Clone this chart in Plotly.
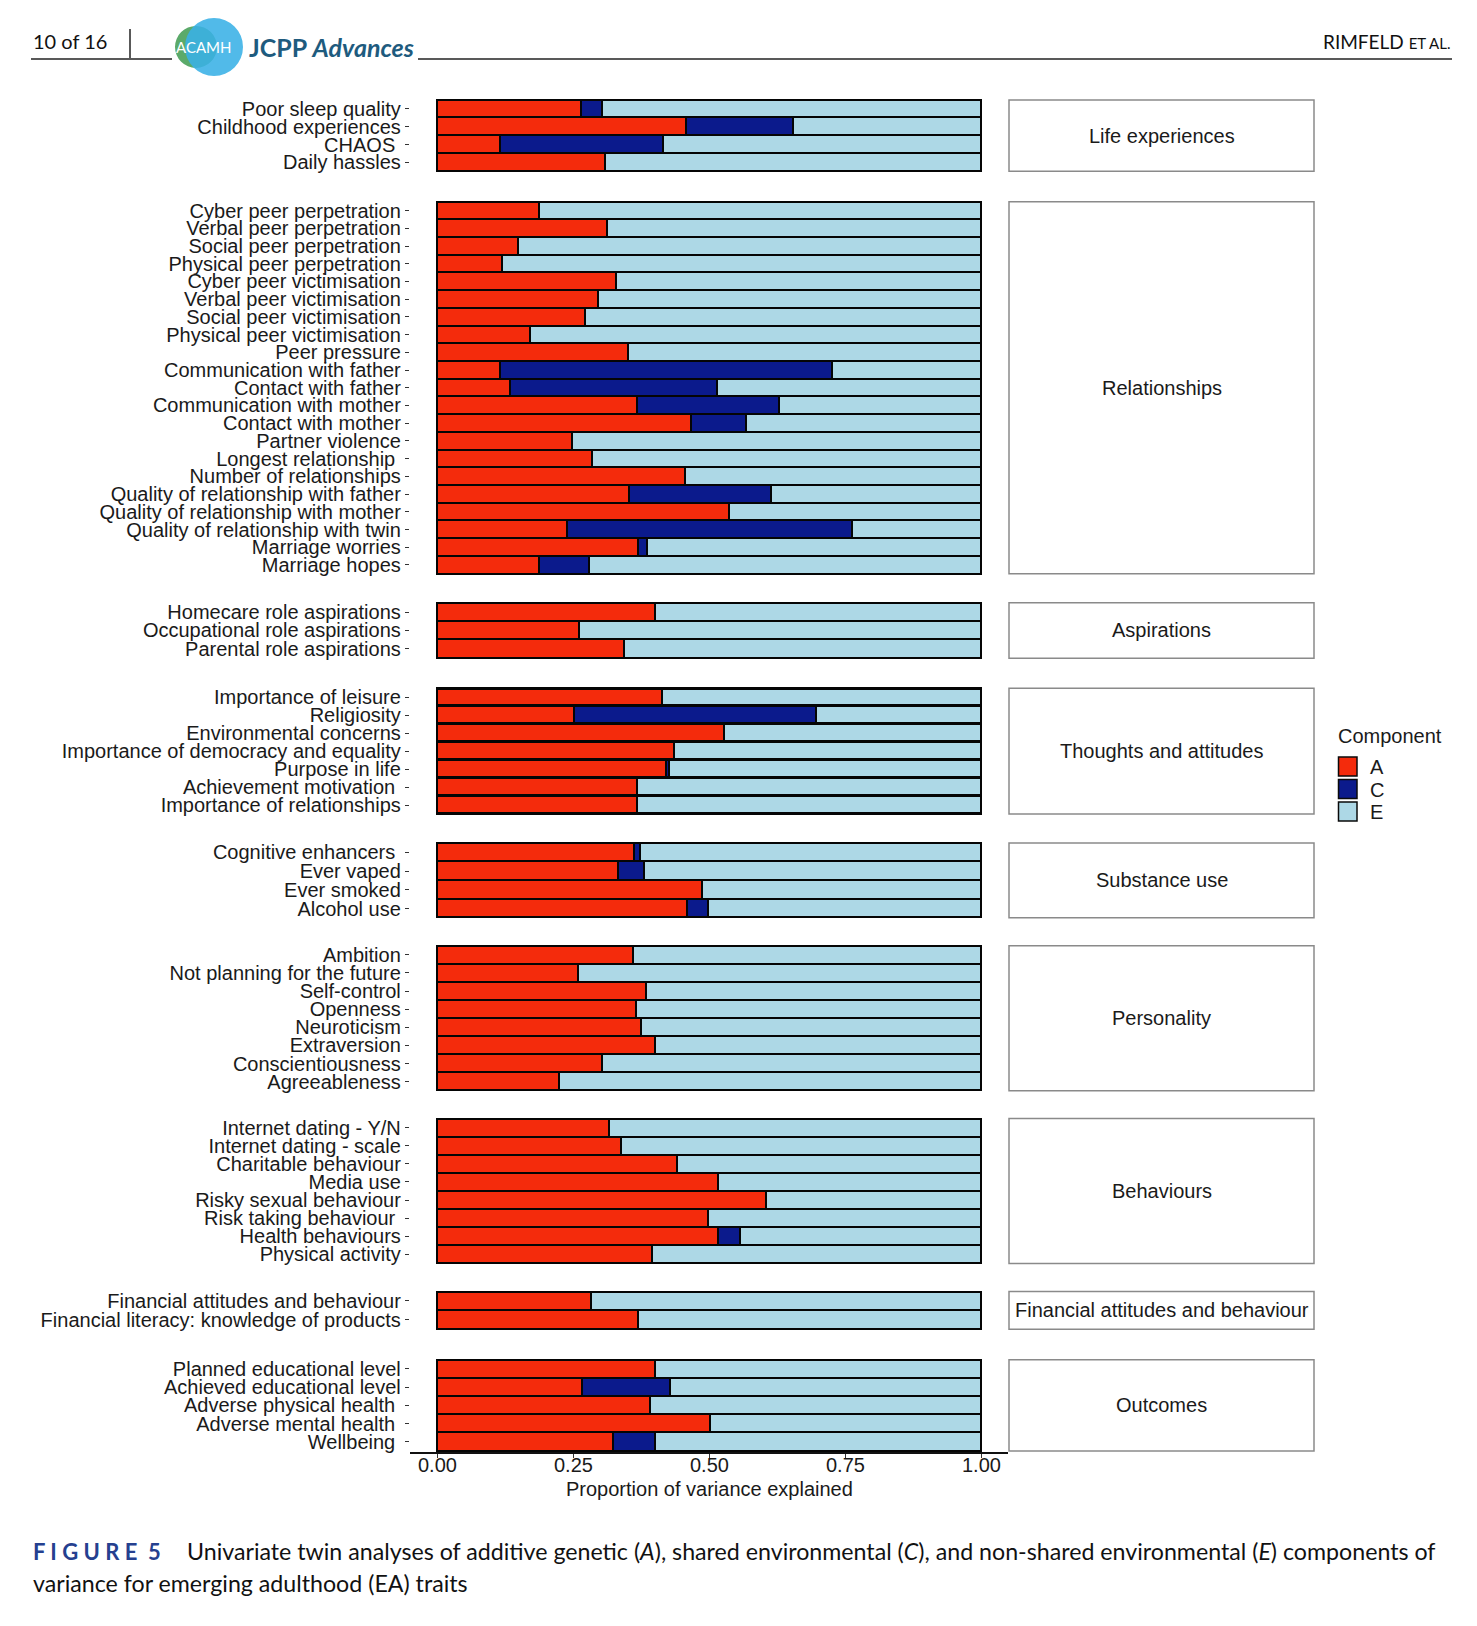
import plotly.graph_objects as go

W, H = 1477, 1626

# ------------------------------------------------------------------ data
groups = ["Life experiences", "Relationships", "Aspirations",
          "Thoughts and attitudes", "Substance use", "Personality",
          "Behaviours", "Financial attitudes and behaviour", "Outcomes"]

life_traits = ["Poor sleep quality", "Childhood experiences", "CHAOS\u00a0", "Daily hassles"]
life_A = [0.265, 0.457, 0.116, 0.308]
life_C = [0.038, 0.197, 0.299, 0.000]
life_E = [0.697, 0.346, 0.585, 0.692]

rel_traits = ["Cyber peer perpetration", "Verbal peer perpetration", "Social peer perpetration",
              "Physical peer perpetration", "Cyber peer victimisation", "Verbal peer victimisation",
              "Social peer victimisation", "Physical peer victimisation", "Peer pressure",
              "Communication with father", "Contact with father", "Communication with mother",
              "Contact with mother", "Partner violence", "Longest relationship\u00a0",
              "Number of relationships", "Quality of relationship with father",
              "Quality of relationship with mother", "Quality of relationship with twin",
              "Marriage worries", "Marriage hopes"]
rel_A = [0.187, 0.313, 0.149, 0.119, 0.329, 0.296, 0.272, 0.171, 0.351, 0.116, 0.133,
         0.367, 0.467, 0.247, 0.285, 0.455, 0.353, 0.536, 0.239, 0.370, 0.187]
rel_C = [0.000, 0.000, 0.000, 0.000, 0.000, 0.000, 0.000, 0.000, 0.000, 0.609, 0.381,
         0.261, 0.100, 0.000, 0.000, 0.000, 0.261, 0.000, 0.524, 0.016, 0.092]
rel_E = [0.813, 0.687, 0.851, 0.881, 0.671, 0.704, 0.728, 0.829, 0.649, 0.275, 0.486,
         0.372, 0.433, 0.753, 0.715, 0.545, 0.386, 0.464, 0.237, 0.614, 0.721]

asp_traits = ["Homecare role aspirations", "Occupational role aspirations", "Parental role aspirations"]
asp_A = [0.400, 0.260, 0.344]
asp_C = [0.000, 0.000, 0.000]
asp_E = [0.600, 0.740, 0.656]

tho_traits = ["Importance of leisure", "Religiosity", "Environmental concerns",
              "Importance of democracy and equality", "Purpose in life",
              "Achievement motivation\u00a0", "Importance of relationships"]
tho_A = [0.413, 0.251, 0.528, 0.436, 0.420, 0.367, 0.367]
tho_C = [0.000, 0.446, 0.000, 0.000, 0.007, 0.000, 0.000]
tho_E = [0.587, 0.303, 0.472, 0.564, 0.573, 0.633, 0.633]

sub_traits = ["Cognitive enhancers\u00a0", "Ever vaped", "Ever smoked", "Alcohol use"]
sub_A = [0.362, 0.332, 0.486, 0.460]
sub_C = [0.010, 0.049, 0.000, 0.038]
sub_E = [0.628, 0.619, 0.514, 0.502]

per_traits = ["Ambition", "Not planning for the future", "Self-control", "Openness",
              "Neuroticism", "Extraversion", "Conscientiousness", "Agreeableness"]
per_A = [0.360, 0.258, 0.384, 0.365, 0.374, 0.401, 0.303, 0.223]
per_C = [0.000, 0.000, 0.000, 0.000, 0.000, 0.000, 0.000, 0.000]
per_E = [0.640, 0.742, 0.616, 0.635, 0.626, 0.599, 0.697, 0.777]

beh_traits = ["Internet dating - Y/N", "Internet dating - scale", "Charitable behaviour",
              "Media use", "Risky sexual behaviour", "Risk taking behaviour\u00a0",
              "Health behaviours", "Physical activity"]
beh_A = [0.315, 0.337, 0.441, 0.516, 0.604, 0.498, 0.517, 0.394]
beh_C = [0.000, 0.000, 0.000, 0.000, 0.000, 0.000, 0.040, 0.000]
beh_E = [0.685, 0.663, 0.559, 0.484, 0.396, 0.502, 0.443, 0.606]

fin_traits = ["Financial attitudes and behaviour", "Financial literacy: knowledge of products"]
fin_A = [0.282, 0.369]
fin_C = [0.000, 0.000]
fin_E = [0.718, 0.631]

out_traits = ["Planned educational level", "Achieved educational level",
              "Adverse physical health\u00a0", "Adverse mental health\u00a0", "Wellbeing\u00a0"]
out_A = [0.400, 0.266, 0.391, 0.501, 0.324]
out_C = [0.000, 0.162, 0.000, 0.000, 0.077]
out_E = [0.600, 0.572, 0.609, 0.499, 0.599]

components = ["A", "C", "E"]
x_ticks = [0.0, 0.25, 0.5, 0.75, 1.0]
x_ticktext = ["0.00", "0.25", "0.50", "0.75", "1.00"]

panels = [
    (groups[0], life_traits, life_A, life_C, life_E),
    (groups[1], rel_traits, rel_A, rel_C, rel_E),
    (groups[2], asp_traits, asp_A, asp_C, asp_E),
    (groups[3], tho_traits, tho_A, tho_C, tho_E),
    (groups[4], sub_traits, sub_A, sub_C, sub_E),
    (groups[5], per_traits, per_A, per_C, per_E),
    (groups[6], beh_traits, beh_A, beh_C, beh_E),
    (groups[7], fin_traits, fin_A, fin_C, fin_E),
    (groups[8], out_traits, out_A, out_C, out_E),
]

# ------------------------------------------------------------------ style / layout constants
COLORS = {"A": "#F42B0C", "C": "#0B1A8C", "E": "#ADD8E6"}
FONT = "Liberation Sans, Arial, sans-serif"
PAGE_FONT = "Lato, Open Sans, sans-serif"
TXT = "#1a1a1a"

# panel top/bottom in pixels
PANEL_PX = [(99, 170.5), (201, 573.5), (602.5, 658), (688, 814), (843, 918),
            (946, 1091), (1119, 1264), (1292, 1330), (1360.5, 1451.7)]
X_L, X_R = 409.8, 1008.2          # pixel extent of x range [-0.05, 1.05]
STRIP_L, STRIP_R = 1009, 1314


def fx(px):
    return px / W


def fy(py):
    return 1 - py / H


fig = go.Figure()
layout = dict(
    width=W, height=H,
    margin=dict(l=0, r=0, t=0, b=0),
    paper_bgcolor="white", plot_bgcolor="white",
    barmode="stack", bargap=0,
    showlegend=False,
    font=dict(family=FONT, size=20, color=TXT),
)
shapes = []
annotations = []

n_pan = len(panels)
for i, (gname, traits, A, C, E) in enumerate(panels):
    k = "" if i == 0 else str(i + 1)
    n = len(traits)
    top, bot = PANEL_PX[i]
    rowh = (bot - top) / n
    pad = 1.5
    eps = pad / rowh
    last = (i == n_pan - 1)

    for comp, vals in zip(components, (A, C, E)):
        fig.add_trace(go.Bar(
            x=vals, y=traits, orientation="h", name=comp, width=1,
            marker=dict(color=COLORS[comp], line=dict(color="#050505", width=2.2)),
            xaxis="x" + k, yaxis="y" + k, showlegend=False,
            hovertemplate=comp + ": %{x:.2f}<extra>%{y}</extra>",
        ))

    layout["yaxis" + k] = dict(
        domain=[fy(bot + pad), fy(top - pad)],
        type="category", categoryorder="array", categoryarray=traits,
        tickmode="array", tickvals=traits, ticktext=traits,
        range=[n - 0.5 + eps, -0.5 - eps],
        anchor="x" + k,
        showgrid=False, zeroline=False, showline=False,
        ticks="outside", ticklen=4, tickwidth=1, tickcolor="#333333",
        tickfont=dict(family=FONT, size=20, color=TXT),
        fixedrange=True,
    )
    layout["xaxis" + k] = dict(
        domain=[fx(X_L), fx(X_R)],
        range=[-0.05, 1.05],
        anchor="y" + k,
        showgrid=False, zeroline=False,
        showline=last, linecolor="#111111", linewidth=1.5,
        ticks="outside" if last else "", ticklen=4, tickwidth=1, tickcolor="#333333",
        tickvals=x_ticks,
        showticklabels=False,
        fixedrange=True,
    )

    # facet strip on the right
    shapes.append(dict(type="rect", xref="paper", yref="paper",
                       x0=fx(STRIP_L), x1=fx(STRIP_R), y0=fy(bot), y1=fy(top),
                       line=dict(color="#8a8a8a", width=1.5), fillcolor="white", layer="below"))
    annotations.append(dict(xref="paper", yref="paper",
                            x=fx((STRIP_L + STRIP_R) / 2), y=fy((top + bot) / 2),
                            text=gname, showarrow=False, xanchor="center", yanchor="middle",
                            font=dict(family=FONT, size=20, color=TXT)))

# x tick labels, placed on the bottom x axis scale
last_x = "x" + str(n_pan)
for tv, tt in zip(x_ticks, x_ticktext):
    annotations.append(dict(xref=last_x, yref="paper", x=tv, y=fy(1466),
                            text=tt, showarrow=False, xanchor="center", yanchor="middle",
                            font=dict(family=FONT, size=20, color=TXT)))

# x axis title
annotations.append(dict(xref="paper", yref="paper", x=fx(709), y=fy(1490),
                        text="Proportion of variance explained", showarrow=False,
                        xanchor="center", yanchor="middle",
                        font=dict(family=FONT, size=20, color=TXT)))

# legend (drawn manually)
annotations.append(dict(xref="paper", yref="paper", x=fx(1336), y=fy(736),
                        text="Component", showarrow=False, xanchor="left", yanchor="middle",
                        font=dict(family=FONT, size=20, color=TXT)))
key_tops = [757, 779.5, 802]
for comp, kt in zip(components, key_tops):
    shapes.append(dict(type="rect", xref="paper", yref="paper",
                       x0=fx(1338.5), x1=fx(1357), y0=fy(kt + 19), y1=fy(kt),
                       fillcolor=COLORS[comp], line=dict(color="#0a0a0a", width=1.5)))
    annotations.append(dict(xref="paper", yref="paper", x=fx(1368), y=fy(kt + 10),
                            text=comp, showarrow=False, xanchor="left", yanchor="middle",
                            font=dict(family=FONT, size=20, color=TXT)))

# ------------------------------------------------------------------ page header
shapes.append(dict(type="line", xref="paper", yref="paper",
                   x0=fx(31), x1=fx(172), y0=fy(58), y1=fy(58),
                   line=dict(color="#222222", width=1.5)))
shapes.append(dict(type="line", xref="paper", yref="paper",
                   x0=fx(418), x1=fx(1452), y0=fy(58), y1=fy(58),
                   line=dict(color="#222222", width=1.5)))
shapes.append(dict(type="line", xref="paper", yref="paper",
                   x0=fx(130), x1=fx(130), y0=fy(28), y1=fy(57),
                   line=dict(color="#222222", width=1.5)))
# logo circles
shapes.append(dict(type="circle", xref="paper", yref="paper",
                   x0=fx(175), x1=fx(217), y0=fy(67), y1=fy(25),
                   fillcolor="#5BAA6A", line=dict(width=0)))
shapes.append(dict(type="circle", xref="paper", yref="paper",
                   x0=fx(185), x1=fx(243), y0=fy(75), y1=fy(17),
                   fillcolor="#39B1E6", opacity=0.88, line=dict(width=0)))
annotations.append(dict(xref="paper", yref="paper", x=fx(203), y=fy(46),
                        text="ACAMH", showarrow=False, xanchor="center", yanchor="middle",
                        font=dict(family=PAGE_FONT, size=15, color="white")))
annotations.append(dict(xref="paper", yref="paper", x=fx(247), y=fy(46),
                        text="<b>JCPP <i>Advances</i></b>", showarrow=False,
                        xanchor="left", yanchor="middle",
                        font=dict(family=PAGE_FONT, size=25, color="#1E5B7E")))
annotations.append(dict(xref="paper", yref="paper", x=fx(31), y=fy(40),
                        text="10 of 16", showarrow=False, xanchor="left", yanchor="middle",
                        font=dict(family=PAGE_FONT, size=20, color="#111111")))
annotations.append(dict(xref="paper", yref="paper", x=fx(1452), y=fy(41),
                        text="RIMFELD <span style='font-size:15px'>ET AL.</span>",
                        showarrow=False, xanchor="right", yanchor="middle",
                        font=dict(family=PAGE_FONT, size=19, color="#111111")))

# ------------------------------------------------------------------ caption
annotations.append(dict(xref="paper", yref="paper", x=fx(31), y=fy(1552),
                        text="<b>F\u00a0I\u00a0G\u00a0U\u00a0R\u00a0E\u00a0\u00a05</b>",
                        showarrow=False, xanchor="left", yanchor="middle",
                        font=dict(family=PAGE_FONT, size=22, color="#25408F")))
annotations.append(dict(xref="paper", yref="paper", x=fx(185), y=fy(1552),
                        text="Univariate twin analyses of additive genetic (<i>A</i>), shared environmental (<i>C</i>), "
                             "and non-shared environmental (<i>E</i>) components of",
                        showarrow=False, xanchor="left", yanchor="middle",
                        font=dict(family=PAGE_FONT, size=23.2, color="#111111")))
annotations.append(dict(xref="paper", yref="paper", x=fx(31), y=fy(1584),
                        text="variance for emerging adulthood (EA) traits",
                        showarrow=False, xanchor="left", yanchor="middle",
                        font=dict(family=PAGE_FONT, size=23.2, color="#111111")))

layout["shapes"] = shapes
layout["annotations"] = annotations
fig.update_layout(**layout)

fig.write_html("out.html", config={"displayModeBar": False},
               post_script="document.body.style.margin='0';")
